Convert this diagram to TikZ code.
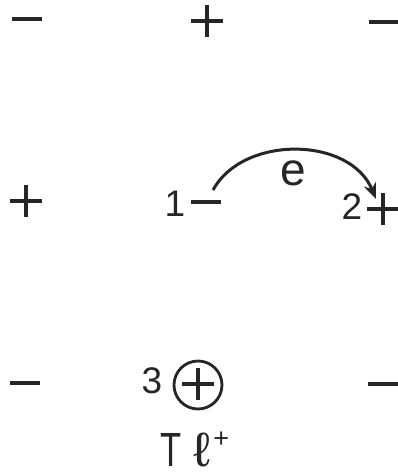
\documentclass[tikz,border=0pt]{standalone}
\usepackage{fontspec}
\setmainfont{Liberation Sans}
\usetikzlibrary{arrows.meta}
\tikzset{
  charge/.style={line width=3.4pt, line cap=butt, black!85},
  chplus/.pic={\draw[charge] (-16,0)--(16,0) (0,-16)--(0,16);},
  chminus/.pic={\draw[charge] (-15,0)--(15,0);},
  lbl/.style={inner sep=0pt, text=black!85, font=\fontsize{37}{37}\selectfont},
  elbl/.style={inner sep=0pt, text=black!85, font=\fontsize{46}{46}\selectfont},
  hop/.style={line width=3pt, black!85, -{Stealth[length=16pt,width=13pt]}},
}
\begin{document}
\begin{tikzpicture}[x=1pt,y=-1pt]
\useasboundingbox[fill=white] (0,0) rectangle (398,475);
% lattice charges
\pic at (27,19) {chminus};
\pic at (207,21) {chplus};
\pic at (384,22) {chminus};
\pic at (26,201) {chplus};
\pic at (206,202) {chminus};
\pic at (383,209) {chplus};
\pic at (25,383) {chminus};
\pic at (383,384) {chminus};
% site 3 (Tl+)
\node[circle, draw, line width=2.8pt, black!85, minimum size=48pt, inner sep=0pt] (s3) at (198,385) {};
\pic at (198,384) {chplus};
% labels
\node[lbl] (n1) at (175,204) {1};
\node[lbl] (n2) at (352,207) {2};
\node[lbl] (n3) at (152,381) {3};
\node[elbl] (e) at (293,173) {e};
\node[inner sep=0pt, anchor=base west, text=black!85, font=\fontsize{48}{48}\selectfont] (tl) at (160,466)
  {\scalebox{0.72}[1]{T}\kern 12pt\scalebox{1.1}[1]{ℓ}\kern 3pt\raisebox{19pt}{\fontsize{27}{27}\selectfont +}};
% electron hop
\coordinate (a1) at (213,190);
\coordinate (a2) at (376,199);
\draw[hop] (a1) .. controls (243,135) and (350,136) .. (a2);
\end{tikzpicture}
\end{document}
